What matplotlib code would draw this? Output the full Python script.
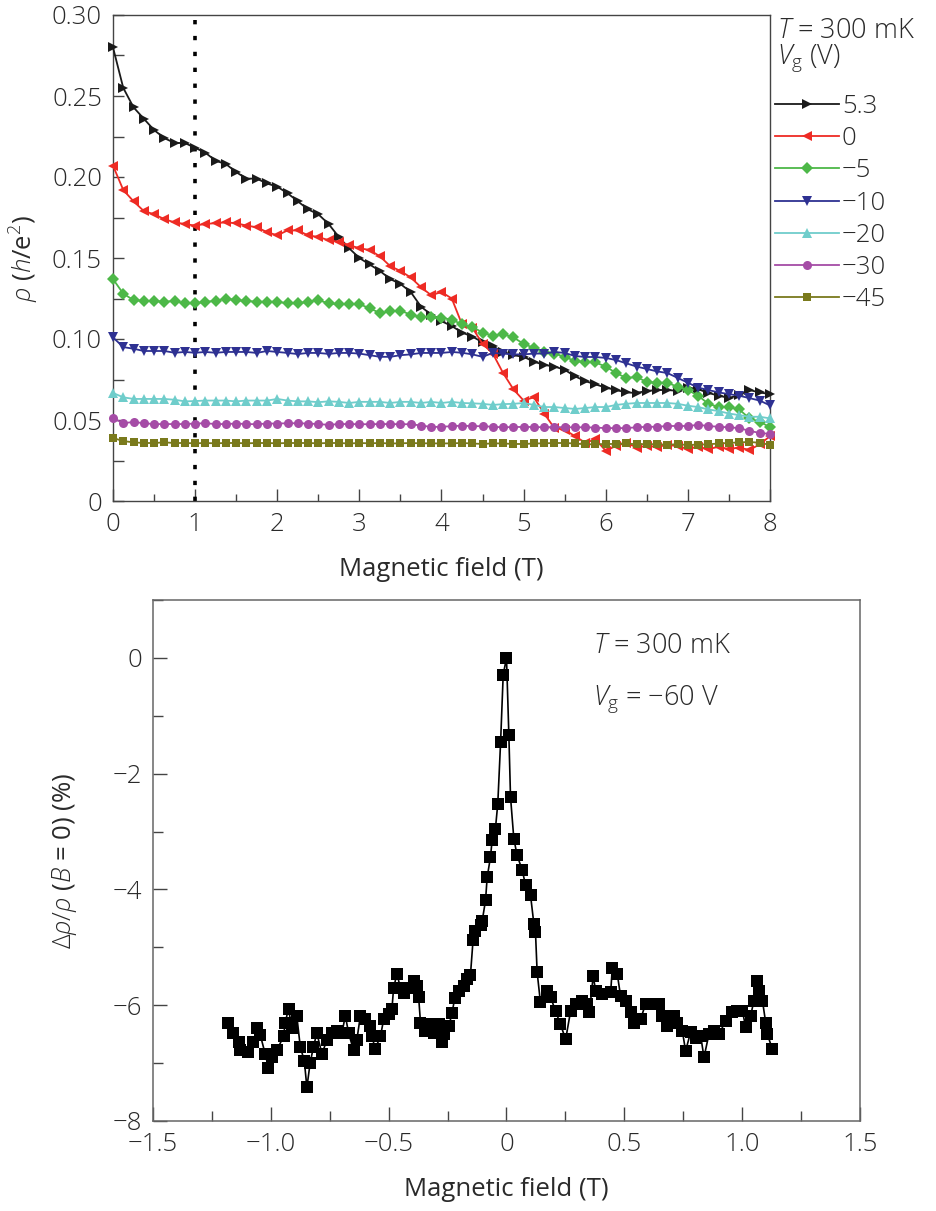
import numpy as np
import matplotlib
matplotlib.use("Agg")
import matplotlib.pyplot as plt
from matplotlib.ticker import MultipleLocator, FuncFormatter

plt.rcParams["font.family"] = ["Open Sans", "DejaVu Sans"]
plt.rcParams["font.weight"] = "light"
plt.rcParams["mathtext.fontset"] = "custom"
plt.rcParams["mathtext.rm"] = "Open Sans:light"
plt.rcParams["mathtext.it"] = "Open Sans:italic:light"
plt.rcParams["mathtext.bf"] = "Open Sans:bold"

# ---- top panel: rho vs B for several gate voltages (T = 300 mK) ----
gate_labels = ["5.3", "0", "\u22125", "\u221210", "\u221220", "\u221230", "\u221245"]

rho_53 = [0.280, 0.255, 0.243, 0.236, 0.229, 0.224, 0.221, 0.221, 0.218, 0.215,
          0.210, 0.208, 0.203, 0.199, 0.199, 0.196, 0.194, 0.190, 0.185, 0.180,
          0.177, 0.171, 0.163, 0.156, 0.150, 0.146, 0.142, 0.137, 0.134, 0.129,
          0.120, 0.115, 0.111, 0.108, 0.104, 0.1015, 0.098, 0.0955, 0.092, 0.090,
          0.089, 0.086, 0.084, 0.083, 0.081, 0.077, 0.074, 0.072, 0.070, 0.0685,
          0.067, 0.0667, 0.068, 0.0685, 0.0685, 0.068, 0.070, 0.069, 0.0667, 0.065,
          0.0636, 0.0654, 0.0685, 0.067, 0.066]
rho_0 = [0.207, 0.192, 0.185, 0.179, 0.177, 0.174, 0.172, 0.171, 0.170, 0.171,
         0.1715, 0.172, 0.1715, 0.170, 0.169, 0.166, 0.164, 0.167, 0.167, 0.164,
         0.163, 0.161, 0.160, 0.158, 0.156, 0.155, 0.151, 0.145, 0.142, 0.138,
         0.132, 0.127, 0.129, 0.125, 0.109, 0.107, 0.097, 0.091, 0.079, 0.069,
         0.062, 0.064, 0.054, 0.045, 0.044, 0.040, 0.036, 0.038, 0.031, 0.034,
         0.036, 0.033, 0.034, 0.0335, 0.0345, 0.034, 0.032, 0.0335, 0.032, 0.0335,
         0.032, 0.033, 0.0315, 0.035, 0.040]
rho_m5 = [0.137, 0.128, 0.124, 0.1235, 0.1235, 0.123, 0.1235, 0.122, 0.122, 0.123,
          0.1235, 0.125, 0.124, 0.1235, 0.123, 0.123, 0.123, 0.122, 0.122, 0.123,
          0.124, 0.122, 0.1215, 0.1215, 0.1215, 0.119, 0.116, 0.117, 0.1175, 0.115,
          0.1135, 0.1135, 0.113, 0.112, 0.109, 0.1075, 0.104, 0.102, 0.103, 0.101,
          0.097, 0.0945, 0.092, 0.091, 0.089, 0.0864, 0.0858, 0.0855, 0.083, 0.079,
          0.076, 0.0765, 0.0735, 0.073, 0.073, 0.0705, 0.0685, 0.065, 0.060, 0.058,
          0.058, 0.0565, 0.051, 0.049, 0.0455]
rho_m10 = [0.101, 0.095, 0.094, 0.0926, 0.0926, 0.0926, 0.0915, 0.092, 0.0915, 0.092,
           0.0915, 0.092, 0.092, 0.092, 0.0914, 0.0926, 0.092, 0.0914, 0.0907, 0.0914,
           0.0914, 0.0908, 0.0914, 0.0914, 0.091, 0.090, 0.089, 0.089, 0.090, 0.0905,
           0.0914, 0.0914, 0.0914, 0.092, 0.0915, 0.0905, 0.089, 0.0914, 0.091, 0.0905,
           0.0905, 0.091, 0.091, 0.092, 0.0914, 0.0895, 0.0889, 0.0889, 0.0883, 0.087,
           0.085, 0.083, 0.0815, 0.080, 0.079, 0.076, 0.073, 0.070, 0.0685, 0.067,
           0.066, 0.065, 0.0635, 0.062, 0.059]
rho_m20 = [0.0667, 0.064, 0.063, 0.063, 0.063, 0.063, 0.0625, 0.0615, 0.0617, 0.062,
           0.062, 0.062, 0.0615, 0.062, 0.062, 0.062, 0.063, 0.062, 0.0615, 0.0615,
           0.061, 0.0615, 0.0612, 0.0605, 0.0612, 0.0612, 0.0612, 0.0605, 0.0612, 0.0612,
           0.0605, 0.0612, 0.0605, 0.0612, 0.0605, 0.0603, 0.060, 0.0593, 0.0598, 0.060,
           0.0605, 0.0593, 0.058, 0.058, 0.0574, 0.0568, 0.0574, 0.058, 0.058, 0.0593,
           0.060, 0.0605, 0.0605, 0.0605, 0.0605, 0.060, 0.0588, 0.058, 0.0565, 0.0555,
           0.054, 0.053, 0.052, 0.052, 0.051]
rho_m30 = [0.0512, 0.048, 0.0488, 0.048, 0.0475, 0.0475, 0.0475, 0.0475, 0.0478, 0.048,
           0.0475, 0.0475, 0.0478, 0.0475, 0.0474, 0.0478, 0.0478, 0.048, 0.048, 0.0478,
           0.0475, 0.047, 0.0475, 0.0475, 0.0474, 0.0474, 0.0475, 0.0475, 0.0474, 0.0474,
           0.0466, 0.0457, 0.0458, 0.0462, 0.0465, 0.0462, 0.0462, 0.0458, 0.0455, 0.0457,
           0.0457, 0.0457, 0.0455, 0.0457, 0.0455, 0.0455, 0.0455, 0.0453, 0.045, 0.045,
           0.045, 0.0455, 0.0458, 0.0458, 0.0463, 0.0463, 0.0463, 0.047, 0.0463, 0.0458,
           0.0455, 0.045, 0.0433, 0.042, 0.0414]
rho_m45 = [0.0389, 0.0370, 0.0362, 0.0358, 0.0358, 0.0362, 0.0358, 0.0358, 0.0356, 0.0358,
           0.0356, 0.0358, 0.0358, 0.0356, 0.0358, 0.0358, 0.0356, 0.0358, 0.0358, 0.0358,
           0.0356, 0.0358, 0.0358, 0.0355, 0.0358, 0.0356, 0.0358, 0.0355, 0.0356, 0.0358,
           0.0356, 0.0356, 0.0355, 0.0356, 0.0358, 0.0355, 0.0352, 0.0356, 0.0355, 0.0352,
           0.0352, 0.0355, 0.0356, 0.0358, 0.0358, 0.0355, 0.0350, 0.0350, 0.0352, 0.0352,
           0.0355, 0.0350, 0.0352, 0.0350, 0.0348, 0.0350, 0.0346, 0.0348, 0.0350, 0.0355,
           0.0358, 0.0362, 0.0364, 0.0360, 0.0346]

# ---- bottom panel: magnetoresistance at Vg = -60 V ----
B_sweep = [-1.180, -1.159, -1.137, -1.130, -1.095, -1.074, -1.059, -1.045, -1.024, -1.010,
           -0.996, -0.975, -0.946, -0.939, -0.925, -0.911, -0.890, -0.875, -0.858, -0.847,
           -0.833, -0.819, -0.805, -0.783, -0.762, -0.741, -0.720, -0.698, -0.684, -0.670,
           -0.649, -0.635, -0.620, -0.599, -0.578, -0.571, -0.557, -0.535, -0.521, -0.500,
           -0.486, -0.479, -0.465, -0.450, -0.436, -0.415, -0.394, -0.380, -0.373, -0.365,
           -0.344, -0.330, -0.309, -0.288, -0.273, -0.266, -0.245, -0.231, -0.220, -0.200,
           -0.181, -0.167, -0.153, -0.142, -0.132, -0.110, -0.103, -0.089, -0.082, -0.068,
           -0.061, -0.047, -0.037, -0.025, -0.014, 0.000, 0.010, 0.017, 0.031, 0.045,
           0.067, 0.081, 0.102, 0.116, 0.123, 0.130, 0.144, 0.173, 0.187, 0.208,
           0.229, 0.251, 0.272, 0.293, 0.321, 0.343, 0.352, 0.368, 0.378, 0.406,
           0.442, 0.449, 0.470, 0.484, 0.505, 0.527, 0.541, 0.569, 0.590, 0.619,
           0.647, 0.661, 0.682, 0.711, 0.725, 0.746, 0.760, 0.781, 0.803, 0.824,
           0.838, 0.859, 0.880, 0.902, 0.930, 0.958, 0.980, 1.001, 1.015, 1.036,
           1.050, 1.065, 1.071, 1.086, 1.100, 1.107, 1.128]
drho = [-6.30, -6.48, -6.63, -6.78, -6.81, -6.63, -6.39, -6.51, -6.84, -7.08,
        -6.90, -6.78, -6.54, -6.30, -6.06, -6.39, -6.18, -6.72, -6.96, -7.42,
        -6.99, -6.72, -6.48, -6.84, -6.60, -6.48, -6.45, -6.48, -6.18, -6.48,
        -6.78, -6.60, -6.18, -6.24, -6.36, -6.54, -6.75, -6.54, -6.24, -6.15,
        -6.06, -5.70, -5.46, -5.70, -5.79, -5.70, -5.58, -5.67, -5.85, -6.30,
        -6.45, -6.33, -6.48, -6.33, -6.63, -6.50, -6.36, -6.14, -5.88, -5.76,
        -5.66, -5.55, -5.48, -4.88, -4.72, -4.62, -4.54, -4.19, -3.79, -3.44,
        -3.15, -2.95, -2.52, -1.45, -0.29, 0.00, -1.33, -2.40, -3.12, -3.41,
        -3.67, -3.93, -4.10, -4.59, -4.74, -5.43, -5.95, -5.75, -5.86, -6.10,
        -6.33, -6.59, -6.10, -5.98, -5.92, -5.98, -6.12, -5.49, -5.75, -5.81,
        -5.78, -5.35, -5.46, -5.84, -5.92, -6.12, -6.30, -6.24, -5.98, -5.98,
        -5.98, -6.18, -6.36, -6.18, -6.30, -6.44, -6.79, -6.47, -6.56, -6.53,
        -6.90, -6.50, -6.44, -6.50, -6.27, -6.12, -6.10, -6.10, -6.38, -6.18,
        -5.92, -5.58, -5.75, -5.92, -6.30, -6.50, -6.76]

series = [rho_53, rho_0, rho_m5, rho_m10, rho_m20, rho_m30, rho_m45]
colors = ["#1a1a1a", "#ee2b24", "#4db848", "#2e3192", "#6fcdcb", "#a54ca6", "#7a7a1c"]
markers = [">", "<", "D", "v", "^", "o", "s"]
msizes = [7, 7, 6, 7, 7, 6.5, 5.5]

txt = "#2a2a2a"
spine_c = "#444444"
fs = 18.5

fig = plt.figure(figsize=(9.37, 12.11), dpi=100)

# top axes
ax1 = fig.add_axes([113 / 937, 1 - 501 / 1211, 657 / 937, 486 / 1211])
for vals, c, m, ms, lab in zip(series, colors, markers, msizes, gate_labels):
    B = np.linspace(0, 8, len(vals))
    ax1.plot(B, vals, color=c, marker=m, markersize=ms, lw=1.3,
             markeredgewidth=0, label=lab, clip_on=False, zorder=3)
ax1.axvline(1, color="black", lw=2.6, ls=(0, (1.2, 3.2)), zorder=2)
ax1.set_xlim(0, 8)
ax1.set_ylim(0, 0.30)
ax1.xaxis.set_major_locator(MultipleLocator(1))
ax1.xaxis.set_minor_locator(MultipleLocator(0.5))
ax1.yaxis.set_major_locator(MultipleLocator(0.05))
ax1.yaxis.set_minor_locator(MultipleLocator(0.025))
ax1.yaxis.set_major_formatter(FuncFormatter(lambda v, p: "0" if abs(v) < 1e-9 else f"{v:.2f}"))
ax1.set_xlabel("Magnetic field (T)", fontsize=fs, color=txt, labelpad=14)
ax1.set_ylabel(r"$\rho$ ($h$/e$^{2}$)", fontsize=fs, color=txt, labelpad=8)
ax1.tick_params(which="both", direction="in", colors=spine_c, labelcolor=txt,
                labelsize=fs, width=1.0, pad=8)
ax1.tick_params(axis="x", which="major", length=9)
ax1.tick_params(axis="x", which="minor", length=5)
ax1.tick_params(axis="y", which="both", length=8)
for s in ax1.spines.values():
    s.set_color(spine_c)
    s.set_linewidth(1.0)

fig.text(777 / 937, 1 - 31 / 1211, r"$T$ = 300 mK", fontsize=19.5, color=txt, va="center")
fig.text(777 / 937, 1 - 58 / 1211, r"$V_{\mathrm{g}}$ (V)", fontsize=19.5, color=txt, va="center")
leg = ax1.legend(loc="upper left", bbox_to_anchor=(775 / 937, 1 - 94 / 1211),
                 bbox_transform=fig.transFigure, frameon=False, fontsize=fs,
                 handlelength=2.5, handletextpad=0.1, labelspacing=0.28,
                 borderpad=0, borderaxespad=0)
for t in leg.get_texts():
    t.set_color(txt)

# bottom axes
ax2 = fig.add_axes([153 / 937, 1 - 1121 / 1211, 707 / 937, 521 / 1211])
ax2.plot(B_sweep, drho, color="black", lw=1.2, marker="s", markersize=8.5,
         markeredgewidth=0, zorder=3)
ax2.set_xlim(-1.5, 1.5)
ax2.set_ylim(-8, 1)
ax2.xaxis.set_major_locator(MultipleLocator(0.5))
ax2.xaxis.set_minor_locator(MultipleLocator(0.25))
ax2.yaxis.set_major_locator(MultipleLocator(2))
ax2.yaxis.set_minor_locator(MultipleLocator(1))


def fmt_x(v, p):
    if abs(v) < 1e-9:
        return "0"
    return f"{v:.1f}".replace("-", "\u2212")


def fmt_y(v, p):
    if abs(v) < 1e-9:
        return "0"
    return f"{v:.0f}".replace("-", "\u2212")


ax2.xaxis.set_major_formatter(FuncFormatter(fmt_x))
ax2.yaxis.set_major_formatter(FuncFormatter(fmt_y))
ax2.set_xlabel("Magnetic field (T)", fontsize=fs, color=txt, labelpad=14)
ax2.set_ylabel(r"$\Delta\rho/\rho$ ($B$ = 0) (%)", fontsize=fs, color=txt, labelpad=24)
ax2.tick_params(which="both", direction="in", colors=spine_c, labelcolor=txt,
                labelsize=fs, width=1.0, pad=8)
ax2.tick_params(which="major", length=10)
ax2.tick_params(which="minor", length=7)
for s in ax2.spines.values():
    s.set_color("#666666")
    s.set_linewidth(1.1)

ax2.text(0.622, 0.912, r"$T$ = 300 mK", transform=ax2.transAxes, fontsize=19.5,
         color=txt, va="center")
ax2.text(0.622, 0.81, r"$V_{\mathrm{g}}$ = " + "\u221260 V",
         transform=ax2.transAxes, fontsize=19.5, color=txt, va="center")

fig.savefig("out.png", dpi=100)
